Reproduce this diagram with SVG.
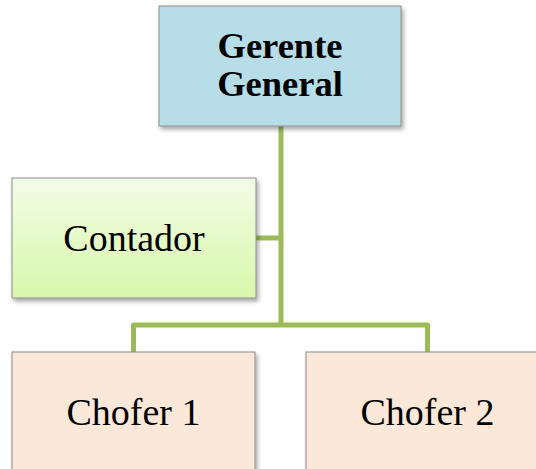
<svg xmlns="http://www.w3.org/2000/svg" width="536" height="469" viewBox="0 0 536 469">
<defs>
<style>
.box{stroke:#8c8c8c;stroke-width:1;filter:url(#sh)}
.t{font-family:"Liberation Serif","Times New Roman",serif;font-size:38px;fill:#000;text-anchor:middle}
.b{font-weight:bold;font-size:36.5px}
.c{fill:none;stroke:#9BBB59;stroke-width:5;stroke-linejoin:round}
</style>
<linearGradient id="gg" x1="0" y1="0" x2="0" y2="1">
<stop offset="0" stop-color="#F1FDE6"/>
<stop offset="1" stop-color="#D9F7AB"/>
</linearGradient>
<filter id="sh" x="-10%" y="-10%" width="125%" height="130%">
<feDropShadow dx="2" dy="3" stdDeviation="2" flood-color="#000" flood-opacity="0.35"/>
</filter>
</defs>
<rect width="536" height="469" fill="#fff"/>
<g id="connectors">
<path class="c" d="M281 126 V325"/>
<path class="c" d="M256 238 H281"/>
<path class="c" d="M133.5 352 V325 H427.5 V352"/>
</g>
<g id="gerente">
<rect class="box" x="159" y="6" width="242" height="120" fill="#B7DDE8"/>
<text class="t b" x="280" y="58">Gerente</text>
<text class="t b" x="280" y="96">General</text>
</g>
<g id="contador">
<rect class="box" x="12" y="178" width="244" height="120" fill="url(#gg)"/>
<text class="t" x="134" y="251">Contador</text>
</g>
<g id="chofer1">
<rect class="box" x="12" y="352" width="243" height="130" fill="#FBE8D9"/>
<text class="t" x="133.5" y="425">Chofer 1</text>
</g>
<g id="chofer2">
<rect class="box" x="306" y="352" width="243" height="130" fill="#FBE8D9"/>
<text class="t" x="427.5" y="425">Chofer 2</text>
</g>
</svg>
